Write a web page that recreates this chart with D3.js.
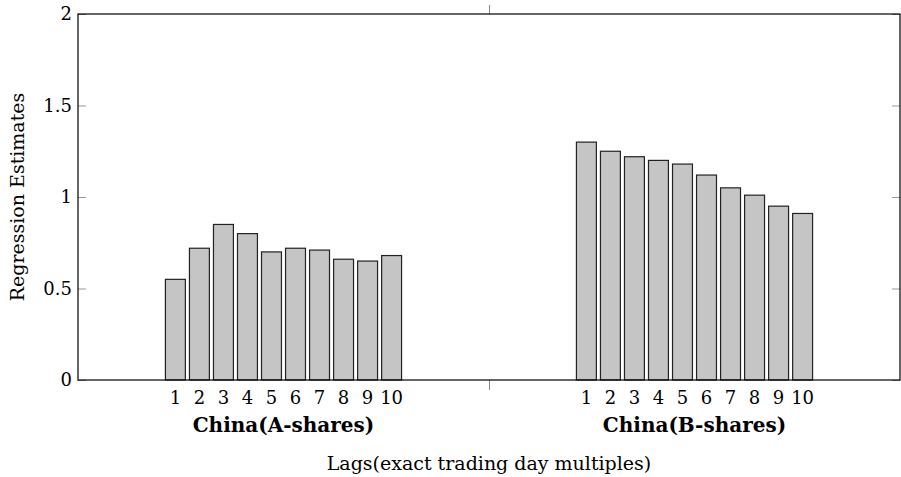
<!DOCTYPE html>
<meta charset="utf-8">
<script src="https://d3js.org/d3.v7.min.js"></script>
<style>
  body { margin: 0; background: #fff; }
  text { font-family: "DejaVu Serif", serif; fill: #000; }
</style>
<div id="my_dataviz"></div>
<script>
  // data
  var groups = ["China(A-shares)", "China(B-shares)"];
  var lags = ["1", "2", "3", "4", "5", "6", "7", "8", "9", "10"];
  var aShares = [0.55, 0.72, 0.85, 0.80, 0.70, 0.72, 0.71, 0.66, 0.65, 0.68];
  var bShares = [1.30, 1.25, 1.22, 1.20, 1.18, 1.12, 1.05, 1.01, 0.95, 0.91];
  var yTicks = [0, 0.5, 1, 1.5, 2];

  var series = [aShares, bShares];

  var W = 901, H = 477;
  var margin = {top: 14, right: 1, bottom: 97, left: 78},
      width = W - margin.left - margin.right,
      height = H - margin.top - margin.bottom;

  var svg = d3.select("#my_dataviz")
    .append("svg")
      .attr("width", W)
      .attr("height", H)
    .append("g")
      .attr("transform", "translate(" + margin.left + "," + margin.top + ")");

  // x: group positions 1 and 2, with half a unit of room at each side
  var x = d3.scaleLinear().domain([0.5, 2.5]).range([0, width]);
  // bars inside a group
  var inner = d3.scaleBand().domain(lags).range([-120, 120]).paddingInner(0.17).paddingOuter(0.08);
  var y = d3.scaleLinear().domain([0, 2]).range([height, 0]);

  // y ticks, inside on both sides
  svg.append("g")
      .call(d3.axisLeft(y).tickValues(yTicks).tickSize(-8).tickFormat(d3.format("")))
      .call(function(g) {
        g.select(".domain").remove();
        g.selectAll("line").attr("stroke", "#999");
        g.selectAll("text").attr("x", -6).style("font-size", "18px").style("font-family", "DejaVu Serif");
      });
  svg.append("g")
      .attr("transform", "translate(" + width + ",0)")
      .call(d3.axisRight(y).tickValues(yTicks).tickSize(-8).tickFormat(""))
      .call(function(g) {
        g.select(".domain").remove();
        g.selectAll("line").attr("stroke", "#999");
      });

  // x ticks between the groups, outside top and bottom
  svg.append("g")
      .attr("transform", "translate(0," + height + ")")
      .call(d3.axisBottom(x).tickValues([1.5]).tickSize(10).tickFormat(""))
      .call(function(g) { g.select(".domain").remove(); g.selectAll("line").attr("stroke", "#888"); });
  svg.append("g")
      .call(d3.axisTop(x).tickValues([1.5]).tickSize(9).tickFormat(""))
      .call(function(g) { g.select(".domain").remove(); g.selectAll("line").attr("stroke", "#888"); });

  // bars
  series.forEach(function(vals, gi) {
    var cx = x(gi + 1);
    var grp = svg.append("g").attr("transform", "translate(" + cx + ",0)");
    grp.selectAll("rect")
      .data(vals)
      .enter()
      .append("rect")
        .attr("x", function(d, i) { return inner(lags[i]); })
        .attr("y", function(d) { return y(d); })
        .attr("width", inner.bandwidth())
        .attr("height", function(d) { return height - y(d); })
        .style("fill", "#c4c5c4")
        .style("stroke", "#222")
        .style("stroke-width", 1.2);

    grp.selectAll(".lag")
      .data(lags)
      .enter()
      .append("text")
        .attr("class", "lag")
        .attr("x", function(d) { return inner(d) + inner.bandwidth() / 2; })
        .attr("y", height + 24)
        .attr("text-anchor", "middle")
        .style("font-size", "18px")
        .text(function(d) { return d; });

    grp.append("text")
        .attr("x", 0)
        .attr("y", height + 52)
        .attr("text-anchor", "middle")
        .style("font-size", "20px")
        .style("font-weight", "bold")
        .text(groups[gi]);
  });

  // frame
  svg.append("rect")
      .attr("width", width)
      .attr("height", height)
      .style("fill", "none")
      .style("stroke", "#000")
      .style("stroke-width", 1.2);

  // axis labels
  svg.append("text")
      .attr("x", width / 2)
      .attr("y", height + 90)
      .attr("text-anchor", "middle")
      .style("font-size", "19px")
      .text("Lags(exact trading day multiples)");

  svg.append("text")
      .attr("transform", "translate(" + (-54) + "," + (height / 2) + ") rotate(-90)")
      .attr("text-anchor", "middle")
      .style("font-size", "19px")
      .text("Regression Estimates");
</script>
